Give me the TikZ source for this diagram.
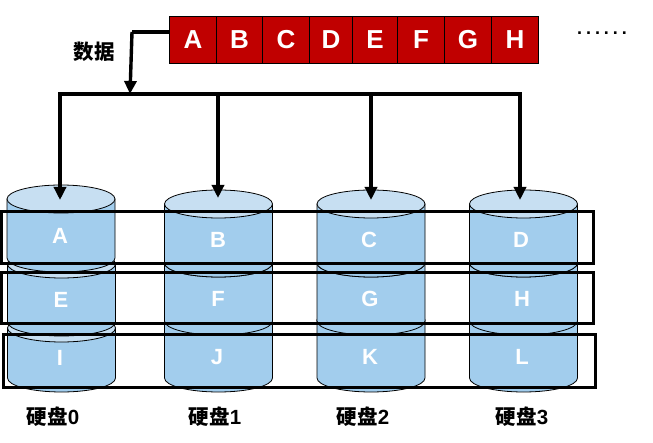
\documentclass[tikz,border=0pt]{standalone}
\usepackage{fontspec}
\setmainfont{Liberation Sans}
\newfontfamily\cjk{Noto Sans CJK SC}
\usetikzlibrary{arrows.meta,positioning,calc}
\definecolor{CellRed}{RGB}{192,0,0}
\definecolor{DiskBody}{RGB}{162,205,237}
\definecolor{DiskTop}{RGB}{199,223,242}
\tikzset{
  cell/.style={draw=black, line width=0.8pt, fill=CellRed, text=white, inner sep=0pt, outer sep=0pt,
    font=\fontsize{26}{26}\selectfont\bfseries, minimum height=47pt, anchor=west},
  disktxt/.style={text=white, inner sep=0pt, font=\fontsize{22}{22}\selectfont\bfseries},
  rowbox/.style={draw=black, line width=3pt, inner sep=0pt, outer sep=0pt, anchor=north west},
  caption/.style={inner sep=0pt, font=\fontsize{20.5}{20.5}\selectfont\bfseries},
  busline/.style={draw=black, line width=3.4pt},
  busarr/.style={-{Triangle[length=13pt,width=12pt]}, draw=black, line width=3.4pt},
  pics/disk/.style={code={
    \draw[line width=0.8pt, fill=DiskBody] (-54,0) -- (-54,#1)
      arc[start angle=180, end angle=360, x radius=54pt, y radius=14pt] -- (54,0) -- cycle;
    \draw[line width=0.8pt, fill=DiskTop] (0,0) ellipse[x radius=54pt, y radius=14pt];
    \coordinate (-top) at (0,0);
  }},
}
\begin{document}
\begin{tikzpicture}[x=1pt,y=-1pt]
\useasboundingbox (0,0) rectangle (653,443);

% ---------------- data strip ----------------
\node[cell, minimum width=47pt] (ca) at (169.5,39.5) {A};
\node[cell, minimum width=46pt, right=0pt of ca] (cb) {B};
\node[cell, minimum width=47pt, right=0pt of cb] (cc) {C};
\node[cell, minimum width=43pt, right=0pt of cc] (cd) {D};
\node[cell, minimum width=45pt, right=0pt of cd] (ce) {E};
\node[cell, minimum width=47pt, right=0pt of ce] (cf) {F};
\node[cell, minimum width=47pt, right=0pt of cf] (cg) {G};
\node[cell, minimum width=47pt, right=0pt of cg] (ch) {H};
\node[inner sep=0pt, anchor=base, font=\fontsize{18}{18}\selectfont\bfseries\addfontfeature{LetterSpace=22}] (more) at (602,35) {......};
\node[caption] (data) at (94,52) {{\cjk 数据}};

% ---------------- disks, bottom piece first ----------------
\pic (d0c) at (61.5,328) {disk=50};
\pic (d0b) at (61.5,264) {disk=58};
\pic (d0a) at (61,199) {disk=59};
\pic (d1c) at (218.5,320) {disk=58};
\pic (d1b) at (218.5,263) {disk=58};
\pic (d1a) at (218.5,204) {disk=59};
\pic (d2c) at (371,320) {disk=58};
\pic (d2b) at (371,263) {disk=58};
\pic (d2a) at (371,204) {disk=59};
\pic (d3c) at (523.5,320) {disk=58};
\pic (d3b) at (523.5,263) {disk=58};
\pic (d3a) at (523.5,204) {disk=59};

\node[disktxt] (ta) at (60,236) {A};
\node[disktxt] (te) at (61,300) {E};
\node[disktxt] (ti) at (60,358) {I};
\node[disktxt] (tb) at (218,240) {B};
\node[disktxt] (tf) at (218,299) {F};
\node[disktxt] (tj) at (217,357) {J};
\node[disktxt] (tc) at (369,240) {C};
\node[disktxt] (tg) at (370,299) {G};
\node[disktxt] (tk) at (370,357) {K};
\node[disktxt] (td) at (521,240) {D};
\node[disktxt] (th) at (522,299) {H};
\node[disktxt] (tl) at (522,357) {L};

\node[caption] (disk0) at (53,417) {{\cjk 硬盘}0};
\node[caption] (disk1) at (215,417) {{\cjk 硬盘}1};
\node[caption] (disk2) at (363,417) {{\cjk 硬盘}2};
\node[caption] (disk3) at (522,417) {{\cjk 硬盘}3};

% ---------------- striping rows ----------------
\node[rowbox, minimum width=591.5pt, minimum height=52pt] (row0) at (1.5,212) {};
\node[rowbox, minimum width=591.5pt, minimum height=51pt] (row1) at (1.5,273) {};
\node[rowbox, minimum width=592.5pt, minimum height=52pt] (row2) at (3,335) {};

% ---------------- bus ----------------
\coordinate (b0) at (60,94);
\coordinate (b1) at (218,94);
\coordinate (b2) at (371,94);
\coordinate (b3) at (520,94);
\coordinate (bend) at (132,32);
\coordinate (drop) at (130,94);
\draw[busline] (ca.west |- bend) -- (bend);
\draw[busarr] (bend) -- (drop);
\draw[busline] ($(b0)+(-1.7,0)$) -- ($(b3)+(1.7,0)$);
\draw[busarr] (b0) -- ($(b0 |- d0a-top)+(0,1)$);
\draw[busarr] (b1) -- ($(b1 |- d1a-top)+(0,-6)$);
\draw[busarr] (b2) -- ($(b2 |- d2a-top)+(0,-4)$);
\draw[busarr] (b3) -- ($(b3 |- d3a-top)+(0,-4)$);
\end{tikzpicture}
\end{document}
